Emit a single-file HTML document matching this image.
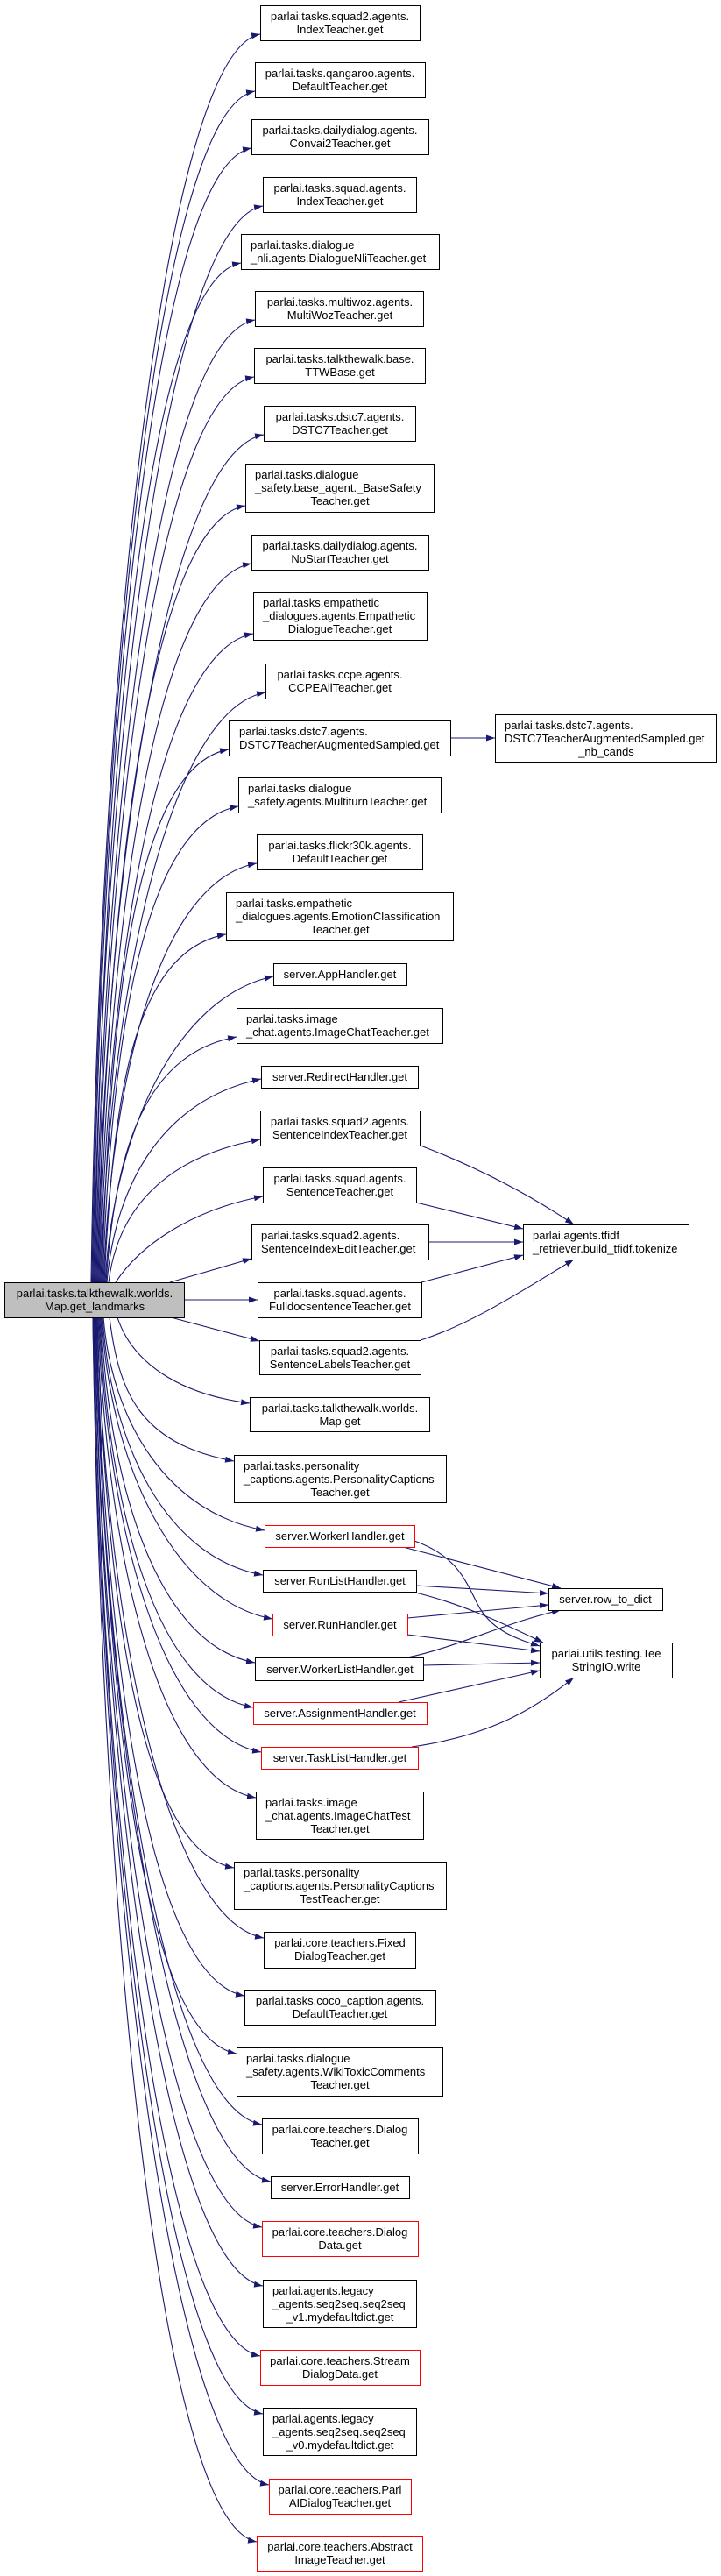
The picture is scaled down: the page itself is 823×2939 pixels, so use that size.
<!DOCTYPE html>
<html><head><meta charset="utf-8"><style>
html,body{margin:0;padding:0;background:#fff;}
svg{display:block;}
text{font-family:"Liberation Sans",Arial,sans-serif;font-size:13px;fill:#000;}
</style></head><body>
<svg width="823" height="2939" viewBox="0 0 823 2939" xmlns="http://www.w3.org/2000/svg">
<defs><marker id="a" markerUnits="userSpaceOnUse" markerWidth="11" markerHeight="8" refX="10" refY="3.5" orient="auto"><path d="M0,0 L10,3.5 L0,7 z" fill="#191970"/></marker></defs>
<g fill="none" stroke="#191970" stroke-width="1.1" marker-end="url(#a)">
<path d="M104,1463 C114,751 187,59 297,39"/>
<path d="M105,1463 C115,783 181,124 291,104"/>
<path d="M106,1463 C116,816 177,189 287,169"/>
<path d="M107,1463 C117,849 190,255 300,235"/>
<path d="M108,1463 C118,881 165,320 275,300"/>
<path d="M109,1463 C119,914 181,385 291,365"/>
<path d="M110,1463 C120,946 180,450 290,430"/>
<path d="M111,1463 C121,979 191,516 301,496"/>
<path d="M112,1463 C122,1020 170,597 280,577"/>
<path d="M113,1463 C123,1053 177,663 287,643"/>
<path d="M114,1463 C124,1093 179,743 289,723"/>
<path d="M115,1463 C125,1126 193,810 303,790"/>
<path d="M116,1463 C126,1159 151,875 261,855"/>
<path d="M117,1463 C127,1191 162,940 272,920"/>
<path d="M118,1463 C128,1224 183,1005 293,985"/>
<path d="M119,1463 C129,1264 148,1086 258,1066"/>
<path d="M120,1463 C130,1290 202,1137 312,1114"/>
<path d="M121,1463 C131,1323 160,1203 270,1183"/>
<path d="M122,1463 C132,1348 188,1254 298,1231"/>
<path d="M124,1463 C134,1381 187,1320 297,1300"/>
<path d="M132,1463 C160,1420 220,1380 300,1365"/>
<path d="M194,1463 L287,1436"/>
<path d="M210,1483 L294,1483"/>
<path d="M195,1503 L296,1530"/>
<path d="M134,1503 C150,1552 200,1590 285,1601"/>
<path d="M125,1503 C135,1585 157,1647 267,1667"/>
<path d="M118,1503 C128,1624 192,1726 302,1746"/>
<path d="M117,1503 C127,1650 190,1777 300,1797"/>
<path d="M116,1503 C126,1675 201,1827 311,1847"/>
<path d="M115,1503 C125,1700 181,1877 291,1897"/>
<path d="M114,1503 C124,1725 179,1928 289,1948"/>
<path d="M113,1503 C123,1751 188,1979 298,1999"/>
<path d="M112,1503 C122,1777 182,2031 292,2051"/>
<path d="M111,1503 C121,1817 157,2111 267,2131"/>
<path d="M111,1503 C121,1857 191,2191 301,2211"/>
<path d="M110,1503 C120,1890 169,2257 279,2277"/>
<path d="M110,1503 C120,1923 160,2323 270,2343"/>
<path d="M109,1503 C119,1963 189,2404 299,2424"/>
<path d="M109,1503 C119,1996 199,2469 309,2489"/>
<path d="M108,1503 C118,2022 189,2521 299,2541"/>
<path d="M108,1503 C118,2055 190,2588 300,2608"/>
<path d="M107,1503 C117,2095 187,2668 297,2688"/>
<path d="M107,1503 C117,2128 190,2734 300,2754"/>
<path d="M106,1503 C116,2169 197,2815 307,2835"/>
<path d="M106,1503 C116,2201 183,2880 293,2900"/>
<path d="M514,842 L565,842"/>
<path d="M480,1307 C540,1330 600,1360 655,1397"/>
<path d="M475,1372 L597,1402"/>
<path d="M489,1417 L597,1417"/>
<path d="M481,1463 L597,1432"/>
<path d="M480,1529 C540,1510 600,1470 655,1437"/>
<path d="M460,1765 L640,1812"/>
<path d="M473,1758 C520,1775 530,1800 545,1830 C560,1860 590,1870 616,1878"/>
<path d="M475,1809 L626,1818"/>
<path d="M470,1816 C530,1830 580,1855 620,1874"/>
<path d="M465,1846 L626,1831"/>
<path d="M465,1865 L616,1884"/>
<path d="M465,1891 C520,1880 580,1850 640,1837"/>
<path d="M483,1900 L616,1897"/>
<path d="M455,1942 L616,1906"/>
<path d="M470,1993 C560,1980 610,1950 655,1914"/>
</g>
<g fill="#fff" stroke="#000" stroke-width="1">
<rect x="5.5" y="1463.5" width="205" height="40" fill="#bfbfbf"/>
<rect x="297.5" y="6.5" width="182" height="40"/>
<rect x="291.5" y="71.5" width="194" height="40"/>
<rect x="287.5" y="136.5" width="202" height="40"/>
<rect x="300.5" y="202.5" width="175" height="40"/>
<rect x="275.5" y="267.5" width="226" height="40"/>
<rect x="291.5" y="332.5" width="192" height="40"/>
<rect x="290.5" y="397.5" width="195" height="40"/>
<rect x="301.5" y="463.5" width="173" height="40"/>
<rect x="280.5" y="529.5" width="215" height="55"/>
<rect x="287.5" y="610.5" width="202" height="40"/>
<rect x="289.5" y="675.5" width="198" height="55"/>
<rect x="303.5" y="757.5" width="169" height="40"/>
<rect x="261.5" y="822.5" width="253" height="40"/>
<rect x="565.5" y="815.5" width="252" height="54"/>
<rect x="272.5" y="887.5" width="231" height="40"/>
<rect x="293.5" y="952.5" width="189" height="40"/>
<rect x="258.5" y="1018.5" width="259" height="55"/>
<rect x="312.5" y="1099.5" width="152" height="25"/>
<rect x="270.5" y="1150.5" width="235" height="40"/>
<rect x="298.5" y="1216.5" width="179" height="25"/>
<rect x="297.5" y="1267.5" width="182" height="40"/>
<rect x="300.5" y="1332.5" width="175" height="40"/>
<rect x="287.5" y="1397.5" width="202" height="40"/>
<rect x="597.5" y="1397.5" width="189" height="40"/>
<rect x="294.5" y="1463.5" width="187" height="40"/>
<rect x="296.5" y="1529.5" width="184" height="39"/>
<rect x="285.5" y="1594.5" width="205" height="39"/>
<rect x="267.5" y="1660.5" width="242" height="54"/>
<rect x="302.5" y="1740.5" width="171" height="25" stroke="#f00"/>
<rect x="300.5" y="1791.5" width="175" height="25"/>
<rect x="311.5" y="1841.5" width="154" height="25" stroke="#f00"/>
<rect x="291.5" y="1891.5" width="192" height="26"/>
<rect x="289.5" y="1942.5" width="198" height="25" stroke="#f00"/>
<rect x="298.5" y="1993.5" width="179" height="25" stroke="#f00"/>
<rect x="626.5" y="1812.5" width="130" height="25"/>
<rect x="616.5" y="1874.5" width="151" height="40"/>
<rect x="292.5" y="2044.5" width="191" height="54"/>
<rect x="267.5" y="2124.5" width="242" height="54"/>
<rect x="301.5" y="2204.5" width="173" height="41"/>
<rect x="279.5" y="2270.5" width="218" height="40"/>
<rect x="270.5" y="2336.5" width="235" height="55"/>
<rect x="299.5" y="2417.5" width="178" height="40"/>
<rect x="309.5" y="2483.5" width="158" height="25"/>
<rect x="299.5" y="2534.5" width="178" height="40" stroke="#f00"/>
<rect x="300.5" y="2601.5" width="175" height="54"/>
<rect x="297.5" y="2681.5" width="182" height="40" stroke="#f00"/>
<rect x="300.5" y="2747.5" width="175" height="54"/>
<rect x="307.5" y="2828.5" width="162" height="40" stroke="#f00"/>
<rect x="293.5" y="2893.5" width="189" height="40" stroke="#f00"/>
</g>
<g text-anchor="middle">
<text x="108" y="1480">parlai.tasks.talkthewalk.worlds.</text><text x="108" y="1495">Map.get_landmarks</text>
<text x="388" y="23">parlai.tasks.squad2.agents.</text><text x="388" y="38">IndexTeacher.get</text>
<text x="388" y="88">parlai.tasks.qangaroo.agents.</text><text x="388" y="103">DefaultTeacher.get</text>
<text x="388" y="153">parlai.tasks.dailydialog.agents.</text><text x="388" y="168">Convai2Teacher.get</text>
<text x="388" y="219">parlai.tasks.squad.agents.</text><text x="388" y="234">IndexTeacher.get</text>
<text x="286" y="284" text-anchor="start">parlai.tasks.dialogue</text><text x="286" y="299" text-anchor="start">_nli.agents.DialogueNliTeacher.get</text>
<text x="388" y="349">parlai.tasks.multiwoz.agents.</text><text x="388" y="364">MultiWozTeacher.get</text>
<text x="388" y="414">parlai.tasks.talkthewalk.base.</text><text x="388" y="429">TTWBase.get</text>
<text x="388" y="480">parlai.tasks.dstc7.agents.</text><text x="388" y="495">DSTC7Teacher.get</text>
<text x="291" y="546" text-anchor="start">parlai.tasks.dialogue</text><text x="291" y="561" text-anchor="start">_safety.base_agent._BaseSafety</text><text x="388" y="576">Teacher.get</text>
<text x="388" y="627">parlai.tasks.dailydialog.agents.</text><text x="388" y="642">NoStartTeacher.get</text>
<text x="300" y="692" text-anchor="start">parlai.tasks.empathetic</text><text x="300" y="707" text-anchor="start">_dialogues.agents.Empathetic</text><text x="388" y="722">DialogueTeacher.get</text>
<text x="388" y="774">parlai.tasks.ccpe.agents.</text><text x="388" y="789">CCPEAllTeacher.get</text>
<text x="273" y="839" text-anchor="start">parlai.tasks.dstc7.agents.</text><text x="273" y="854" text-anchor="start">DSTC7TeacherAugmentedSampled.get</text>
<text x="576" y="832" text-anchor="start">parlai.tasks.dstc7.agents.</text><text x="576" y="847" text-anchor="start">DSTC7TeacherAugmentedSampled.get</text><text x="692" y="862">_nb_cands</text>
<text x="283" y="904" text-anchor="start">parlai.tasks.dialogue</text><text x="283" y="919" text-anchor="start">_safety.agents.MultiturnTeacher.get</text>
<text x="388" y="969">parlai.tasks.flickr30k.agents.</text><text x="388" y="984">DefaultTeacher.get</text>
<text x="269" y="1035" text-anchor="start">parlai.tasks.empathetic</text><text x="269" y="1050" text-anchor="start">_dialogues.agents.EmotionClassification</text><text x="388" y="1065">Teacher.get</text>
<text x="388" y="1116">server.AppHandler.get</text>
<text x="281" y="1167" text-anchor="start">parlai.tasks.image</text><text x="281" y="1182" text-anchor="start">_chat.agents.ImageChatTeacher.get</text>
<text x="388" y="1233">server.RedirectHandler.get</text>
<text x="388" y="1284">parlai.tasks.squad2.agents.</text><text x="388" y="1299">SentenceIndexTeacher.get</text>
<text x="388" y="1349">parlai.tasks.squad.agents.</text><text x="388" y="1364">SentenceTeacher.get</text>
<text x="298" y="1414" text-anchor="start">parlai.tasks.squad2.agents.</text><text x="298" y="1429" text-anchor="start">SentenceIndexEditTeacher.get</text>
<text x="608" y="1414" text-anchor="start">parlai.agents.tfidf</text><text x="608" y="1429" text-anchor="start">_retriever.build_tfidf.tokenize</text>
<text x="388" y="1480">parlai.tasks.squad.agents.</text><text x="388" y="1495">FulldocsentenceTeacher.get</text>
<text x="388" y="1546">parlai.tasks.squad2.agents.</text><text x="388" y="1561">SentenceLabelsTeacher.get</text>
<text x="388" y="1611">parlai.tasks.talkthewalk.worlds.</text><text x="388" y="1626">Map.get</text>
<text x="278" y="1677" text-anchor="start">parlai.tasks.personality</text><text x="278" y="1692" text-anchor="start">_captions.agents.PersonalityCaptions</text><text x="388" y="1707">Teacher.get</text>
<text x="388" y="1757">server.WorkerHandler.get</text>
<text x="388" y="1808">server.RunListHandler.get</text>
<text x="388" y="1858">server.RunHandler.get</text>
<text x="388" y="1909">server.WorkerListHandler.get</text>
<text x="388" y="1959">server.AssignmentHandler.get</text>
<text x="388" y="2010">server.TaskListHandler.get</text>
<text x="691" y="1829">server.row_to_dict</text>
<text x="692" y="1891">parlai.utils.testing.Tee</text><text x="692" y="1906">StringIO.write</text>
<text x="303" y="2061" text-anchor="start">parlai.tasks.image</text><text x="303" y="2076" text-anchor="start">_chat.agents.ImageChatTest</text><text x="388" y="2091">Teacher.get</text>
<text x="278" y="2141" text-anchor="start">parlai.tasks.personality</text><text x="278" y="2156" text-anchor="start">_captions.agents.PersonalityCaptions</text><text x="388" y="2171">TestTeacher.get</text>
<text x="388" y="2221">parlai.core.teachers.Fixed</text><text x="388" y="2236">DialogTeacher.get</text>
<text x="388" y="2287">parlai.tasks.coco_caption.agents.</text><text x="388" y="2302">DefaultTeacher.get</text>
<text x="281" y="2353" text-anchor="start">parlai.tasks.dialogue</text><text x="281" y="2368" text-anchor="start">_safety.agents.WikiToxicComments</text><text x="388" y="2383">Teacher.get</text>
<text x="388" y="2434">parlai.core.teachers.Dialog</text><text x="388" y="2449">Teacher.get</text>
<text x="388" y="2500">server.ErrorHandler.get</text>
<text x="388" y="2551">parlai.core.teachers.Dialog</text><text x="388" y="2566">Data.get</text>
<text x="311" y="2618" text-anchor="start">parlai.agents.legacy</text><text x="311" y="2633" text-anchor="start">_agents.seq2seq.seq2seq</text><text x="388" y="2648">_v1.mydefaultdict.get</text>
<text x="388" y="2698">parlai.core.teachers.Stream</text><text x="388" y="2713">DialogData.get</text>
<text x="311" y="2764" text-anchor="start">parlai.agents.legacy</text><text x="311" y="2779" text-anchor="start">_agents.seq2seq.seq2seq</text><text x="388" y="2794">_v0.mydefaultdict.get</text>
<text x="388" y="2845">parlai.core.teachers.Parl</text><text x="388" y="2860">AIDialogTeacher.get</text>
<text x="388" y="2910">parlai.core.teachers.Abstract</text><text x="388" y="2925">ImageTeacher.get</text>
</g>
</svg>
</body></html>
